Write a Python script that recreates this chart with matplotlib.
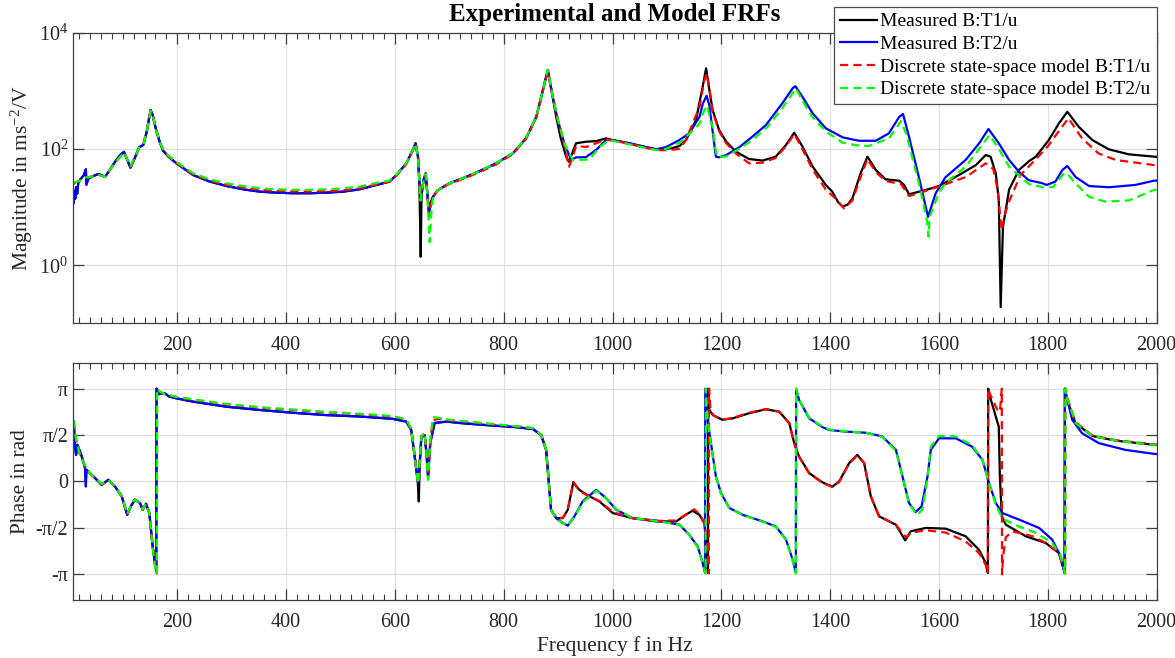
import numpy as np
import matplotlib
matplotlib.use('Agg')
import matplotlib.pyplot as plt
from matplotlib.ticker import MultipleLocator, FixedLocator, NullLocator

plt.rcParams['font.family'] = ['Liberation Serif', 'DejaVu Serif']
plt.rcParams['mathtext.fontset'] = 'custom'
plt.rcParams['mathtext.rm'] = 'Liberation Serif'
plt.rcParams['mathtext.it'] = 'Liberation Serif:italic'

# ---- magnitude (f in Hz, |H| in ms^-2/V) ----
mag_meas_t1 = [
    (9.6, 12), (11, 19), (12.5, 14), (14, 22), (16, 17), (18, 26), (22, 30), (28, 35), (32, 44), (33, 25),
    (36.7, 31), (45, 34), (55, 37), (62, 35), (67, 33), (75, 42), (85.6, 60), (95, 78), (102, 89), (108, 65),
    (114, 47.5), (122, 70), (130, 107), (137.6, 117), (144, 200), (148, 330), (151, 466), (155, 380),
    (158, 280), (162, 198), (168, 130), (174, 93), (185, 72), (199, 56), (229, 35.6), (260, 27.4), (291, 23),
    (321, 20.2), (352, 18.4), (382, 17.7), (413, 17.3), (444, 17.3), (474, 17.7), (505, 18.4), (535, 20.2),
    (566, 24), (590, 27.4), (603, 35.6), (621, 56.5), (633, 96), (638, 125), (642.5, 73), (645, 25),
    (647.5, 1.4), (649, 16), (653, 30), (656.6, 38), (659, 20), (662.7, 7.8), (666, 12), (670, 15),
    (679, 19.6), (700, 25.6), (731, 33), (756, 41.7), (786, 56.5), (817, 84), (841, 152), (860, 356),
    (872, 1030), (881, 2270), (890, 790), (896.5, 356), (905, 150), (915, 73), (919.7, 60), (925, 80),
    (933, 125), (951.6, 133), (970, 136), (988, 152), (1000, 142), (1031, 125), (1062, 107), (1080, 98.5),
    (1098, 100), (1111, 104), (1123, 112), (1135, 142), (1153.5, 314), (1165.7, 1170), (1172, 2430),
    (1177, 1200), (1184, 466), (1196, 211), (1209, 133), (1227, 89.5), (1251, 67), (1276, 63), (1300, 73.5),
    (1319, 117), (1334, 190), (1349, 110), (1368, 49.5), (1392, 24), (1404, 18.4), (1415, 12), (1423, 10.2),
    (1432, 11), (1441, 14.1), (1456, 38), (1468.6, 73.5), (1484, 43.4), (1502, 30), (1527, 28.4), (1536, 24),
    (1545, 16.6), (1560, 18), (1576, 19.7), (1600, 23), (1637, 35.6), (1668, 52.8), (1686, 78.5),
    (1695, 73.5), (1704.5, 38), (1710, 13.3), (1713.5, 0.19), (1717.7, 4.6), (1729, 20), (1747, 43.4),
    (1766, 62), (1778, 73.5), (1802, 142), (1820.6, 275), (1836, 435), (1857, 240), (1882, 142),
    (1912, 98.5), (1949, 80.7), (1995, 73.5), (2000, 73),
]

mag_meas_t2 = [
    (9.6, 11.6), (11, 19), (12.5, 14), (14, 22), (16, 17), (18, 26), (22, 30), (28, 35), (32, 45), (33, 24),
    (36.7, 31), (45, 34), (55, 37), (62, 35), (67, 33), (75, 42), (85.6, 60), (95, 78), (102, 89), (108, 65),
    (114, 47.5), (122, 70), (130, 107), (137.6, 117), (144, 200), (148, 330), (151, 466), (155, 380),
    (158, 280), (162, 198), (168, 130), (174, 93), (185, 72), (199, 56), (229, 35.6), (260, 27.4), (291, 23),
    (321, 20.2), (352, 18.4), (382, 17.7), (413, 17.3), (444, 17.3), (474, 17.7), (505, 18.4), (535, 20.2),
    (566, 24), (590, 27.4), (603, 35.6), (621, 56.5), (633, 96), (638, 125), (642.5, 73), (645, 30),
    (647, 13), (650, 20), (653, 30), (656.6, 38), (659, 20), (662.7, 7.8), (666, 12), (670, 15), (679, 19.6),
    (700, 25.6), (731, 33), (756, 41.7), (786, 56.5), (817, 84), (841, 152), (860, 356), (872, 1030),
    (881, 2270), (890, 790), (899.5, 314), (912, 120), (924, 64.5), (933, 71.6), (951, 72), (970, 96),
    (988, 142), (1000, 142), (1031, 125), (1062, 107), (1080, 98.5), (1098, 107), (1123, 142), (1141, 185),
    (1160, 356), (1166, 600), (1173, 820), (1178, 560), (1184, 200), (1190, 73.5), (1196, 71.6),
    (1209, 78.5), (1233, 107), (1257, 162), (1282, 257), (1312, 605), (1331, 1100), (1336, 1200),
    (1349, 790), (1368, 408), (1392, 226), (1423, 158), (1453, 138), (1484, 138), (1508, 185), (1527, 356),
    (1534, 398), (1545, 162), (1563, 33), (1580, 6.8), (1594, 17.3), (1612, 32.5), (1649, 64.5), (1674, 125),
    (1691, 220), (1710, 125), (1729, 64.5), (1747, 40.5), (1765, 29), (1790, 25.7), (1798, 24),
    (1814, 27.4), (1827, 43.4), (1836, 50.8), (1851, 33), (1876, 23), (1912, 21.9), (1961, 24),
    (1995, 28.4), (2000, 28.5),
]

mag_model_t1 = [
    (9.6, 25), (14, 27), (20, 28), (28, 32), (40, 33), (55, 36), (67, 33), (85.6, 58), (102, 87), (108, 66),
    (114, 50), (122, 72), (130, 105), (137.6, 118), (144, 200), (148, 330), (151, 450), (155, 380),
    (158, 280), (162, 198), (168, 130), (174, 95), (185, 73), (199, 57), (229, 36.5), (260, 28.5), (291, 24),
    (321, 21.5), (352, 19.8), (382, 19), (413, 18.6), (444, 18.5), (474, 18.8), (505, 19.5), (535, 21),
    (566, 24.5), (590, 27.4), (603, 35), (621, 55), (633, 95), (638, 120), (642.5, 73), (647, 13), (650, 20),
    (653, 30), (656.6, 37), (659, 20), (662.7, 7), (666, 11), (670, 15), (679, 19.6), (700, 25), (731, 32),
    (756, 40), (786, 54), (817, 82), (841, 150), (860, 350), (872, 1000), (881, 2200), (890, 780),
    (899.5, 320), (912, 110), (920, 49.5), (925, 65), (933, 112), (951.6, 108), (970, 125), (988, 145),
    (1000, 140), (1031, 122), (1062, 104), (1080, 96), (1098, 95), (1111, 97), (1123, 100), (1135, 142),
    (1160, 531), (1168, 1400), (1173, 2000), (1178, 1100), (1184, 440), (1196, 200), (1209, 125),
    (1227, 83), (1251, 56.5), (1276, 58), (1300, 70), (1319, 112), (1334, 180), (1349, 100), (1368, 44),
    (1392, 20), (1410, 14), (1425.5, 9.5), (1441, 13), (1456, 33), (1468.6, 67), (1484, 40), (1502, 28),
    (1530, 25), (1545, 15.5), (1560, 17), (1600, 22.6), (1650, 33), (1686, 56.5), (1700, 45), (1708, 20),
    (1715, 4.0), (1722, 8), (1730, 13.3), (1750, 35.6), (1775, 62), (1800, 110), (1820, 200), (1838, 336),
    (1863, 152), (1893, 84), (1925, 64.5), (1995, 52.8), (2000, 52.5),
]

mag_model_t2 = [
    (9.6, 25.7), (14, 27), (20, 28), (28, 32), (40, 33), (55, 36), (67, 33), (85.6, 58), (102, 87),
    (108, 66), (114, 50), (122, 72), (130, 105), (137.6, 118), (144, 200), (148, 330), (151, 450), (155, 380),
    (158, 280), (162, 198), (168, 132), (174, 97), (185, 75), (199, 59), (229, 38), (260, 30), (291, 25.5),
    (321, 23), (352, 21), (382, 20.2), (413, 19.8), (444, 19.8), (474, 20.2), (505, 21), (535, 22.5),
    (566, 26), (590, 28.5), (603, 36), (621, 57), (633, 96), (638, 122), (642.5, 73), (647, 13), (650, 20),
    (653, 30), (656.6, 37), (659, 20), (664, 2.5), (667, 8), (670, 14), (679, 19.6), (700, 25.6), (731, 33),
    (756, 42), (786, 57), (817, 85), (841, 155), (860, 360), (872, 1030), (881, 2300), (890, 800),
    (899.5, 320), (912, 120), (927, 64), (945, 65), (957.7, 66), (976, 107), (990, 135), (1000, 138),
    (1031, 120), (1062, 103), (1080, 96), (1098, 100), (1123, 128), (1135, 160), (1160, 270), (1168, 450),
    (1174, 560), (1180, 300), (1184, 240), (1188, 117), (1192, 73.5), (1208, 73.5), (1233, 100),
    (1257, 142), (1285, 240), (1312, 500), (1337, 1100), (1350, 650), (1367, 356), (1392, 200), (1423, 128),
    (1450, 115), (1471, 112), (1508, 152), (1522, 230), (1530, 300), (1540, 180), (1563, 25.7), (1578, 6),
    (1581, 3.1), (1583, 6.8), (1590, 10), (1600, 18), (1612, 25.7), (1649, 49.5), (1686, 142), (1693, 173),
    (1710, 100), (1729, 49.5), (1765, 25), (1790, 21.9), (1810, 22), (1827, 35.6), (1834, 39), (1851, 25.7),
    (1876, 15), (1906, 12.4), (1949, 13), (1995, 19.7), (2000, 20),
]

# ---- phase (f in Hz, phase in units of pi) ----
ph_meas_t2 = [
    (9.6, 0.645), (12, 0.4), (14, 0.287), (16.4, 0.395), (20, 0.34), (24.5, 0.27), (30.5, 0.145),
    (32, -0.055), (33, 0.125), (36.6, 0.107), (49, 0.036), (61, -0.035), (67, -0.01), (73.3, 0.018),
    (85.6, -0.054), (97.9, -0.16), (108, -0.358), (114.4, -0.27), (122, -0.195), (131.5, -0.232),
    (136.5, -0.305), (142.5, -0.24), (148.6, -0.34), (154.8, -0.7), (159, -0.877), (161.5, -0.96),
    (162, 1.0), (166, 0.94), (172, 0.95), (177, 0.95), (185, 0.915), (199, 0.895), (229, 0.86), (291, 0.805),
    (352, 0.77), (413, 0.74), (474, 0.715), (535, 0.7), (596, 0.675), (621, 0.645), (630, 0.555),
    (636.4, 0.27), (642.5, -0.017), (645, 0.15), (648.7, 0.485), (654.7, 0.5), (658, 0.305), (661, 0.05),
    (665, 0.415), (673, 0.63), (695, 0.645), (719, 0.63), (762, 0.61), (823, 0.585), (853.6, 0.565),
    (869, 0.5), (878, 0.34), (883, -0.017), (887, -0.305), (896.5, -0.395), (908.6, -0.447), (917.8, -0.475),
    (930, -0.375), (945, -0.215), (970, -0.09), (988, -0.178), (1007, -0.305), (1037, -0.395),
    (1080, -0.42), (1123, -0.465), (1141, -0.573), (1156.6, -0.7), (1165.7, -0.877), (1170, -0.985),
    (1170.5, 1.0), (1175, 0.65), (1181, 0.413), (1190, 0.054), (1199.5, -0.125), (1214.7, -0.285),
    (1239, -0.358), (1276, -0.43), (1300.5, -0.485), (1318.8, -0.625), (1331, -0.84), (1337, -0.985),
    (1337.5, 1.0), (1343, 0.878), (1361.6, 0.68), (1386, 0.585), (1398, 0.555), (1429, 0.537), (1466, 0.525),
    (1496, 0.485), (1521, 0.34), (1533, 0.054), (1545, -0.232), (1557, -0.33), (1568, -0.27), (1579, 0.054),
    (1585, 0.34), (1600, 0.465), (1631, 0.465), (1661, 0.375), (1680, 0.233), (1692, -0.017),
    (1704.5, -0.232), (1716.5, -0.34), (1747, -0.41), (1784, -0.5), (1808, -0.625), (1823.6, -0.805),
    (1831, -0.985), (1831.5, 1.0), (1836, 0.878), (1845, 0.665), (1863, 0.52), (1894, 0.413),
    (1943, 0.34), (1995, 0.298), (2000, 0.295),
]

ph_meas_t1 = [
    (9.6, 0.645), (12, 0.4), (14, 0.287), (16.4, 0.395), (20, 0.34), (24.5, 0.27), (30.5, 0.145),
    (32, 0.0), (33, 0.125), (36.6, 0.107), (49, 0.036), (61, -0.035), (67, -0.01), (73.3, 0.018),
    (85.6, -0.054), (97.9, -0.16), (108, -0.358), (114.4, -0.27), (122, -0.195), (131.5, -0.232),
    (136.5, -0.305), (142.5, -0.24), (148.6, -0.34), (154.8, -0.7), (159, -0.877), (161.5, -0.96),
    (162, 1.0), (166, 0.94), (172, 0.95), (177, 0.95), (185, 0.915), (199, 0.895), (229, 0.86), (291, 0.805),
    (352, 0.77), (413, 0.74), (474, 0.715), (535, 0.7), (596, 0.675), (621, 0.645), (630, 0.555),
    (636.4, 0.27), (642, 0.0), (644, -0.215), (645.5, 0.15), (648.7, 0.485), (654.7, 0.5), (658, 0.305),
    (661, 0.05), (665, 0.415), (673, 0.63), (695, 0.645), (719, 0.63), (762, 0.61), (823, 0.585),
    (853.6, 0.565), (869, 0.5), (878, 0.34), (883, -0.017), (887, -0.305), (896.5, -0.395),
    (908.6, -0.395), (917.8, -0.305), (928, -0.007), (939, -0.09), (957.7, -0.16), (976, -0.215),
    (1000.5, -0.34), (1037, -0.395), (1080, -0.43), (1117, -0.43), (1135, -0.358), (1147, -0.315),
    (1159.6, -0.358), (1168.8, -0.448), (1173, -0.7), (1175.5, -0.985), (1176, 1.0), (1178, 0.77),
    (1184.5, 0.715), (1202, 0.665), (1221, 0.68), (1251, 0.735), (1282, 0.778), (1306.5, 0.752),
    (1325, 0.628), (1334, 0.413), (1343, 0.269), (1361.6, 0.09), (1386, -0.01), (1404, -0.055),
    (1416.6, 0.0), (1435, 0.198), (1450, 0.287), (1462.5, 0.198), (1474.8, -0.16), (1490, -0.375),
    (1520.7, -0.465), (1530, -0.555), (1538, -0.635), (1548, -0.537), (1576, -0.5), (1612.5, -0.508),
    (1649, -0.59), (1673.6, -0.735), (1686, -0.877), (1690, -0.985), (1690.5, 1.0), (1692, 0.95),
    (1704.5, 0.7), (1710, 0.59), (1712, 0.05), (1715.6, -0.375), (1723, -0.465), (1759.6, -0.59),
    (1796, -0.662), (1820.5, -0.77), (1831, -0.985), (1831.5, 1.0), (1835, 0.89), (1851, 0.628),
    (1882, 0.49), (1925, 0.44), (1995, 0.395), (2000, 0.393),
]

ph_model_t1 = [
    (9.6, 0.65), (14, 0.45), (20, 0.31), (26, 0.225), (32, 0.15), (40, 0.085), (49, 0.036), (61, -0.03),
    (67, -0.01), (73.3, 0.015), (85.6, -0.054), (97.9, -0.16), (108, -0.358), (114.4, -0.27), (122, -0.195),
    (131.5, -0.232), (136.5, -0.3), (142.5, -0.24), (148.6, -0.34), (154.8, -0.7), (159, -0.9),
    (162, -0.99), (162.5, 1.0), (168, 0.965), (177, 0.94), (199, 0.91), (229, 0.88), (291, 0.83),
    (352, 0.795), (413, 0.77), (474, 0.745), (535, 0.725), (596, 0.7), (621, 0.665), (630, 0.565),
    (636.4, 0.27), (642.5, -0.025), (645, 0.15), (648.7, 0.485), (654.7, 0.525), (658, 0.305),
    (661, 0.075), (665, 0.45), (670, 0.66), (680, 0.675), (700, 0.66), (762, 0.625), (823, 0.595),
    (853.6, 0.575), (869, 0.5), (878, 0.34), (883, -0.017), (887, -0.305), (896.5, -0.395), (908.6, -0.39),
    (917.8, -0.3), (928, -0.01), (939, -0.1), (957.7, -0.165), (976, -0.21), (1000.5, -0.33),
    (1037, -0.395), (1080, -0.425), (1117, -0.42), (1135, -0.355), (1150, -0.3), (1160, -0.35),
    (1169, -0.45), (1174, -0.7), (1177, -0.99), (1177.5, 1.0), (1180, 0.775), (1186, 0.71), (1202, 0.665),
    (1221, 0.685), (1251, 0.74), (1282, 0.78), (1306.5, 0.75), (1325, 0.625), (1334, 0.41), (1343, 0.265),
    (1361.6, 0.085), (1386, -0.015), (1404, -0.06), (1416.6, -0.005), (1435, 0.195), (1450, 0.28),
    (1462.5, 0.2), (1474.8, -0.16), (1490, -0.375), (1520.7, -0.465), (1532, -0.55), (1540, -0.6),
    (1550, -0.55), (1576, -0.525), (1612.5, -0.55), (1649, -0.645), (1673.6, -0.77), (1686, -0.9),
    (1690, -0.99), (1690.5, 1.0), (1694, 0.94), (1707.5, 0.77), (1712, 0.75), (1715.5, 1.0), (1716, -1.0),
    (1718, -0.8), (1723, -0.6), (1735, -0.537), (1772, -0.59), (1796, -0.66), (1820.5, -0.77),
    (1832, -0.99), (1832.5, 1.0), (1836, 0.9), (1851, 0.64), (1882, 0.495), (1925, 0.445), (1995, 0.4),
    (2000, 0.398),
]

ph_model_t2 = [
    (9.6, 0.66), (14, 0.45), (20, 0.31), (26, 0.225), (32, 0.15), (40, 0.085), (49, 0.04), (61, -0.025),
    (67, -0.01), (73.3, 0.015), (85.6, -0.05), (97.9, -0.16), (108, -0.35), (114.4, -0.27), (122, -0.195),
    (131.5, -0.23), (136.5, -0.3), (142.5, -0.24), (148.6, -0.34), (154.8, -0.71), (159, -0.91),
    (162.5, -0.995), (163, 1.0), (168, 0.97), (177, 0.94), (199, 0.91), (229, 0.885), (291, 0.835),
    (352, 0.8), (413, 0.775), (474, 0.75), (535, 0.73), (596, 0.705), (621, 0.67), (630, 0.565),
    (636.4, 0.27), (642.5, -0.025), (645, 0.15), (648.7, 0.485), (654.7, 0.525), (658, 0.305),
    (661, 0.018), (665, 0.45), (670, 0.695), (680, 0.685), (700, 0.665), (762, 0.63), (823, 0.595),
    (853.6, 0.575), (869, 0.5), (878, 0.34), (883, -0.017), (887, -0.305), (896.5, -0.4), (908.6, -0.45),
    (917.8, -0.48), (930, -0.38), (945, -0.225), (970, -0.1), (988, -0.18), (1007, -0.3), (1037, -0.395),
    (1080, -0.425), (1123, -0.465), (1141, -0.575), (1156.6, -0.71), (1166, -0.89), (1171, -0.99),
    (1171.5, 1.0), (1175, 0.65), (1181, 0.4), (1190, 0.05), (1199.5, -0.13), (1214.7, -0.285),
    (1239, -0.36), (1276, -0.435), (1300.5, -0.49), (1318.8, -0.63), (1331, -0.85), (1337, -0.99),
    (1337.5, 1.0), (1343, 0.88), (1361.6, 0.685), (1386, 0.59), (1398, 0.56), (1429, 0.54), (1466, 0.525),
    (1496, 0.48), (1521, 0.33), (1533, 0.05), (1545, -0.24), (1560, -0.36), (1570, -0.3), (1579, 0.05),
    (1585, 0.375), (1600, 0.49), (1631, 0.485), (1661, 0.39), (1680, 0.235), (1692, -0.02),
    (1704.5, -0.25), (1716.5, -0.4), (1747, -0.485), (1777, -0.55), (1808, -0.66), (1823.6, -0.8),
    (1832, -0.99), (1832.5, 1.0), (1836, 0.89), (1851, 0.63), (1882, 0.49), (1925, 0.44), (1995, 0.395),
    (2000, 0.393),
]

labels = ['Measured B:T1/u', 'Measured B:T2/u',
          'Discrete state-space model B:T1/u', 'Discrete state-space model B:T2/u']
colors = ['black', 'blue', 'red', '#00ff00']
styles = ['-', '-', '--', '--']
xticks = np.arange(200, 2001, 200)
phase_ticks = [-np.pi, -np.pi / 2, 0, np.pi / 2, np.pi]
phase_ticklabels = ['-π', '-π/2', '0', 'π/2', 'π']


def xy(pts):
    a = np.array(pts, dtype=float)
    return a[:, 0], a[:, 1]


fig = plt.figure(figsize=(11.75, 6.58), dpi=100)
ax1 = fig.add_axes([0.0621, 0.5085, 0.9222, 0.4420])
ax2 = fig.add_axes([0.0621, 0.0877, 0.9222, 0.3611])

mags = [mag_meas_t1, mag_meas_t2, mag_model_t1, mag_model_t2]
phases = [ph_meas_t1, ph_meas_t2, ph_model_t1, ph_model_t2]
handles = []
for m, p, lab, c, ls in zip(mags, phases, labels, colors, styles):
    kw = dict(color=c, lw=1.6)
    if ls == '--':
        kw['dashes'] = (3.7, 2.3)
    f, v = xy(m)
    h, = ax1.semilogy(f, v, label=lab, **kw)
    handles.append(h)
    f, v = xy(p)
    ax2.plot(f, v * np.pi, **kw)

axc = '0.25'
for ax in (ax1, ax2):
    ax.set_xlim(8.3, 2000)
    ax.xaxis.set_major_locator(FixedLocator(xticks))
    ax.xaxis.set_minor_locator(MultipleLocator(20))
    ax.grid(True, which='major', color='0.88', lw=0.9)
    ax.tick_params(which='both', direction='in', top=True, right=True, colors=axc,
                   labelsize=14.5, labelcolor='0.15')
    ax.tick_params(which='major', length=8, width=0.9)
    ax.tick_params(which='minor', length=4, width=0.8)
    ax.tick_params(axis='x', pad=9)
    for s in ax.spines.values():
        s.set_color(axc)
        s.set_linewidth(0.9)
    ax.set_axisbelow(True)

ax1.set_ylim(0.1, 1e4)
ax1.yaxis.set_major_locator(FixedLocator([1, 1e2, 1e4]))
ax1.yaxis.set_minor_locator(NullLocator())
ax1.set_ylabel(r'Magnitude in ms$^{-2}$/V', fontsize=15.5, color='0.15', labelpad=3)

ax2.set_ylim(-4.02, 4.02)
ax2.set_yticks(phase_ticks)
ax2.set_yticklabels(phase_ticklabels)
ax2.set_ylabel('Phase in rad', fontsize=15.5, color='0.15', labelpad=4)
ax2.set_xlabel('Frequency f in Hz', fontsize=15.5, color='0.15', labelpad=3)

fig.text(0.5232, 0.978, 'Experimental and Model FRFs', fontsize=18, fontweight='bold',
         ha='center', va='center')

leg = fig.legend(handles=handles, loc='upper right', bbox_to_anchor=(0.9843, 0.9894),
                 bbox_transform=fig.transFigure, fontsize=14, frameon=True, fancybox=False,
                 borderaxespad=0, borderpad=0.3, labelspacing=0.26, handlelength=1.9,
                 handletextpad=0.2)
leg.get_frame().set_edgecolor('0.3')
leg.get_frame().set_linewidth(0.9)
leg.get_frame().set_alpha(1)

fig.savefig('out.png', dpi=100)
